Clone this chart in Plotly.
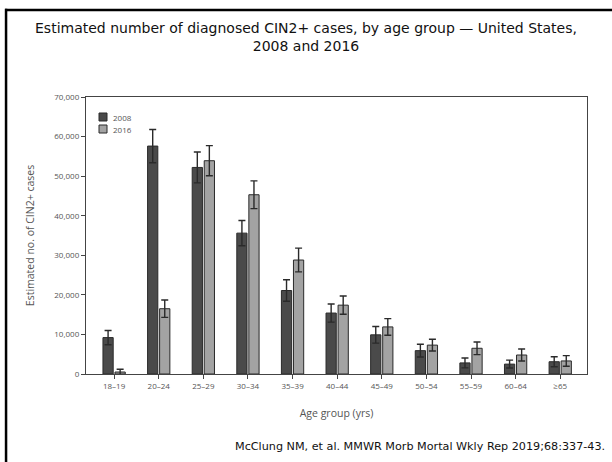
import plotly.graph_objects as go

# ---- data ----
age_groups = ["18–19", "20–24", "25–29", "30–34", "35–39", "40–44",
              "45–49", "50–54", "55–59", "60–64", "≥65"]
cases_2008 = [9200, 57600, 52200, 35600, 21100, 15400, 9900, 5900, 2800, 2500, 3100]
err_2008 = [1800, 4200, 3900, 3200, 2700, 2300, 2100, 1600, 1250, 1000, 1250]
cases_2016 = [500, 16500, 53900, 45300, 28800, 17400, 11900, 7300, 6500, 4800, 3300]
err_2016 = [700, 2200, 3800, 3500, 3000, 2300, 2100, 1500, 1600, 1500, 1350]
y_ticks = [0, 10000, 20000, 30000, 40000, 50000, 60000, 70000]
series_names = ["2008", "2016"]
series_colors = ["#4a4a4a", "#a3a3a3"]

W, H = 612, 462
L, R, T, B = 86, 587, 97, 374  # plot area in pixels


def fx(px):
    return px / W


def fy(py):
    return 1 - py / H


fig = go.Figure()
for name, vals, errs, col in zip(series_names, [cases_2008, cases_2016],
                                 [err_2008, err_2016], series_colors):
    fig.add_trace(go.Bar(
        name=name, x=age_groups, y=vals,
        marker=dict(color=col, line=dict(color="#2a2a2a", width=1)),
        error_y=dict(type="data", array=errs, color="#2a2a2a", thickness=1.4, width=3.5),
        showlegend=False,
    ))

axis_font = dict(family="Open Sans, Noto Sans, sans-serif", size=8, color="#555555")
title_font = dict(family="Open Sans, Noto Sans, sans-serif", size=10.5, color="#555555")

fig.update_layout(
    width=W, height=H,
    margin=dict(l=0, r=0, t=0, b=0, autoexpand=False),
    paper_bgcolor="white", plot_bgcolor="white",
    barmode="group", bargap=0.46, bargroupgap=0.15,
    xaxis=dict(
        domain=[fx(L), fx(R)],
        type="category", range=[-0.63, 10.6],
        showline=True, linecolor="#444444", linewidth=1.3, mirror=True,
        ticks="outside", ticklen=4, tickcolor="#444444", tickwidth=1,
        tickfont=axis_font, showgrid=False, zeroline=False,
        title=dict(text="Age group (yrs)", font=title_font, standoff=19),
    ),
    yaxis=dict(
        domain=[fy(B), fy(T)],
        range=[0, 70000], tickvals=y_ticks, tickformat=",",
        showline=True, linecolor="#444444", linewidth=1.3, mirror=True,
        ticks="outside", ticklen=4, tickcolor="#444444", tickwidth=1,
        tickfont=axis_font, showgrid=False, zeroline=False,
        title=dict(text="Estimated no. of CIN2+ cases", font=title_font, standoff=17),
    ),
)

# legend (drawn as swatches + labels)
leg_rows = [117, 129]
for name, col, yc in zip(series_names, series_colors, leg_rows):
    fig.add_shape(type="rect", xref="paper", yref="paper",
                  x0=fx(99), x1=fx(107), y0=fy(yc - 4), y1=fy(yc + 4),
                  fillcolor=col, line=dict(color="#2a2a2a", width=1))
    fig.add_annotation(text=name, xref="paper", yref="paper",
                       x=fx(111), y=fy(yc), xanchor="left", yanchor="middle",
                       showarrow=False,
                       font=dict(family="Open Sans, Noto Sans, sans-serif", size=8, color="#555555"))

# slide border: top edge and left edge
fig.add_shape(type="rect", xref="paper", yref="paper",
              x0=fx(5), x1=fx(612), y0=fy(8.8), y1=fy(11.3),
              fillcolor="black", line=dict(width=0), layer="above")
fig.add_shape(type="rect", xref="paper", yref="paper",
              x0=fx(4.8), x1=fx(7.3), y0=fy(8.8), y1=fy(462),
              fillcolor="black", line=dict(width=0), layer="above")

# title
fig.add_annotation(
    text="Estimated number of diagnosed CIN2+ cases, by age group — United States,<br>2008 and 2016",
    xref="paper", yref="paper", x=fx(306), y=fy(37),
    xanchor="center", yanchor="middle", align="center", showarrow=False,
    font=dict(family="DejaVu Sans, sans-serif", size=14, color="#111111"),
)

# citation
fig.add_annotation(
    text="McClung NM, et al. MMWR Morb Mortal Wkly Rep 2019;68:337-43.",
    xref="paper", yref="paper", x=fx(607), y=fy(446),
    xanchor="right", yanchor="middle", showarrow=False,
    font=dict(family="DejaVu Sans, sans-serif", size=11.2, color="#111111"),
)

fig.write_html("out.html")
